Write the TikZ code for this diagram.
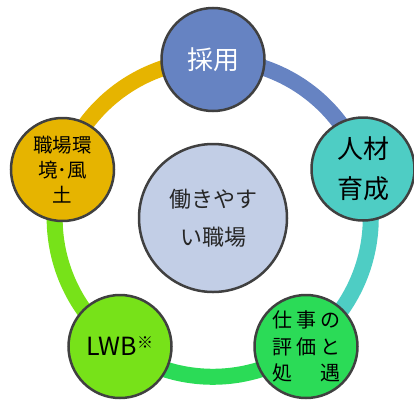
\documentclass[tikz,border=0pt]{standalone}
\usepackage{fontspec}
\setmainfont{Noto Sans CJK JP}
\definecolor{cblue}{HTML}{6683C2}
\definecolor{cteal}{HTML}{4ECDC4}
\definecolor{cgreen}{HTML}{2BDB57}
\definecolor{clime}{HTML}{77E219}
\definecolor{cgold}{HTML}{E6B400}
\definecolor{ccenter}{HTML}{C2CEE6}
\definecolor{cline}{HTML}{404040}
\definecolor{ctext}{HTML}{262626}
\pgfdeclarelayer{bg}
\pgfsetlayers{bg,main}
\begin{document}
\begin{tikzpicture}[x=1pt,y=-1pt,
  bub/.style={circle,draw=cline,line width=2.5pt,minimum size=103pt,inner sep=0pt,align=center,text=black},
  ringarc/.style={line width=16pt},
  fbig/.style={font=\fontsize{26}{40}\selectfont},
  fmid/.style={font=\fontsize{20}{26.5}\selectfont},
  fsmall/.style={font=\fontsize{19.5}{25}\selectfont}]
\useasboundingbox (0,0) rectangle (414,399);
\coordinate (o) at (213,218);
\node[bub,fill=cblue,text=white,fbig] (n1) at (213,59.5) {採用};
\node[bub,fill=cteal,fbig] (n2) at (363,169) {人材\\育成};
\node[bub,fill=cgreen,fmid] (n3) at (306,346.5) {仕\hspace{4pt}事\hspace{4pt}の\\評\hspace{4pt}価\hspace{4pt}と\\処\hspace{28pt}遇};
\node[bub,fill=clime,font=\fontsize{25}{30}\selectfont] (n4) at (120,346.5) {LWB\raisebox{7pt}{\fontsize{16}{16}\selectfont ※}};
\node[bub,fill=cgold,fsmall] (n5) at (62.5,169.5) {職場環\\境･風\\土};
\node[bub,fill=ccenter,minimum size=148pt,text=ctext,font=\fontsize{22}{38}\selectfont] (c) at (o) {働きやす\\い職場};
\begin{pgfonlayer}{bg}
\draw[ringarc,cblue] (n1.center) arc[start angle=-90,end angle=-18,radius=158.5];
\draw[ringarc,cteal] (n2.center) arc[start angle=-18,end angle=54,radius=158.5];
\draw[ringarc,cgreen] (n3.center) arc[start angle=54,end angle=126,radius=158.5];
\draw[ringarc,clime] (n4.center) arc[start angle=126,end angle=198,radius=158.5];
\draw[ringarc,cgold] (n5.center) arc[start angle=198,end angle=270,radius=158.5];
\end{pgfonlayer}
\end{tikzpicture}
\end{document}
